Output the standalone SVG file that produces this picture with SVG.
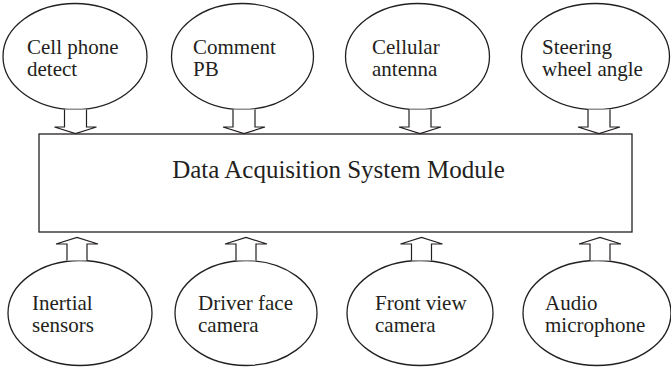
<svg xmlns="http://www.w3.org/2000/svg" width="671" height="369" viewBox="0 0 671 369">
<style>
.n{fill:#fff;stroke:#231f20;stroke-width:1.3}
.a{fill:#fff;stroke:#231f20;stroke-width:1.2}
.t{font-family:"Liberation Serif","Times New Roman",serif;font-size:21px;fill:#231f20}
.h{font-family:"Liberation Serif","Times New Roman",serif;font-size:25px;fill:#231f20}
</style>
<rect width="671" height="369" fill="#fff"/>
<g id="module">
<rect class="n" x="39" y="134" width="593" height="98"/>
<text class="h" x="338.5" y="178" text-anchor="middle">Data Acquisition System Module</text>
</g>
<g id="cell-phone-detect">
<ellipse class="n" cx="75" cy="56.5" rx="72" ry="53"/>
<text class="t" x="27" y="54">Cell phone</text>
<text class="t" x="27" y="76">detect</text>
</g>
<g id="comment-pb">
<ellipse class="n" cx="242.5" cy="56.5" rx="71" ry="53"/>
<text class="t" x="193" y="54">Comment</text>
<text class="t" x="193" y="76">PB</text>
</g>
<g id="cellular-antenna">
<ellipse class="n" cx="417.5" cy="56.5" rx="72" ry="53"/>
<text class="t" x="372" y="54">Cellular</text>
<text class="t" x="372" y="76">antenna</text>
</g>
<g id="steering-wheel-angle">
<ellipse class="n" cx="595.5" cy="56.5" rx="74" ry="53"/>
<text class="t" x="542" y="54">Steering</text>
<text class="t" x="542" y="76">wheel angle</text>
</g>
<g id="inertial-sensors">
<ellipse class="n" cx="80" cy="313" rx="72" ry="52.5"/>
<text class="t" x="32" y="310">Inertial</text>
<text class="t" x="32" y="332">sensors</text>
</g>
<g id="driver-face-camera">
<ellipse class="n" cx="246" cy="313" rx="71" ry="52.5"/>
<text class="t" x="198" y="310">Driver face</text>
<text class="t" x="198" y="332">camera</text>
</g>
<g id="front-view-camera">
<ellipse class="n" cx="420" cy="313" rx="73" ry="52.5"/>
<text class="t" x="375" y="310">Front view</text>
<text class="t" x="375" y="332">camera</text>
</g>
<g id="audio-microphone">
<ellipse class="n" cx="597" cy="313" rx="74" ry="52.5"/>
<text class="t" x="545" y="310">Audio</text>
<text class="t" x="545" y="332">microphone</text>
</g>
<g id="connectors">
<path class="a" d="M64.5,109.5V127H54.5L75.5,133.5L96.5,127H86.5V109.5"/>
<path class="a" d="M233,109.5V127H223L244,133.5L265,127H255V109.5"/>
<path class="a" d="M409,109.5V127H399L420,133.5L441,127H431V109.5"/>
<path class="a" d="M588,109.5V127H578L599,133.5L620,127H610V109.5"/>
<path class="a" d="M67,260.5V244H56L77,237.5L98,244H87V260.5"/>
<path class="a" d="M236,260.5V244H225L246,237.5L267,244H256V260.5"/>
<path class="a" d="M411.5,260.5V244H400.5L421.5,237.5L442.5,244H431.5V260.5"/>
<path class="a" d="M590,260.5V244H579L600,237.5L621,244H610V260.5"/>
</g>
</svg>
